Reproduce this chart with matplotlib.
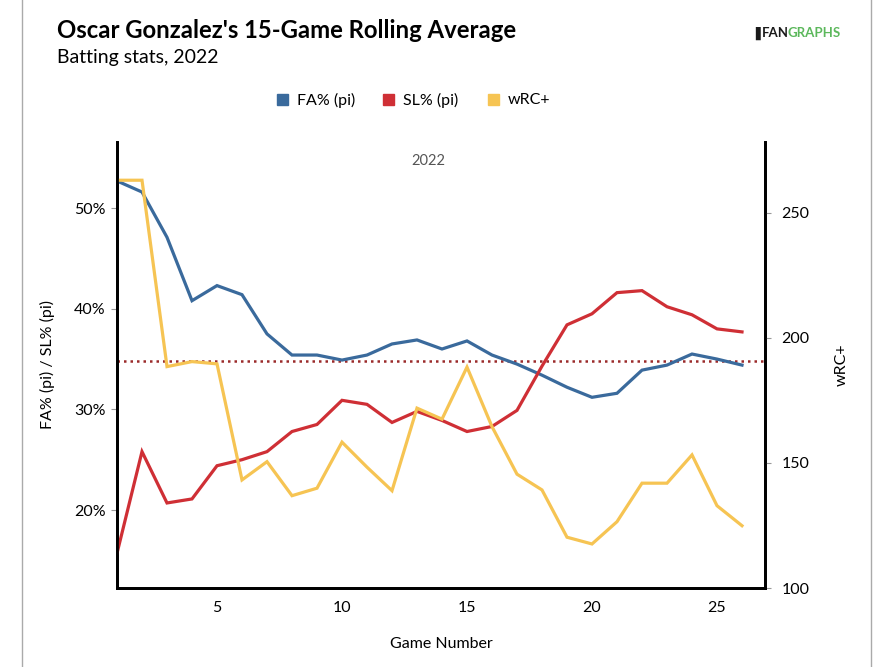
import matplotlib
matplotlib.use("Agg")
import matplotlib.pyplot as plt
from matplotlib.patches import Rectangle
from matplotlib.lines import Line2D

plt.rcParams['font.family'] = ['Lato', 'DejaVu Sans']

games = list(range(1, 27))
fa_pct = [52.7, 51.6, 47.1, 40.8, 42.3, 41.4, 37.5, 35.4, 35.4, 34.9, 35.4, 36.5, 36.9,
          36.0, 36.8, 35.4, 34.5, 33.4, 32.2, 31.2, 31.6, 33.9, 34.4, 35.5, 35.0, 34.4]
sl_pct = [15.7, 25.8, 20.7, 21.1, 24.4, 25.0, 25.8, 27.8, 28.5, 30.9, 30.5, 28.7, 29.8,
          28.9, 27.8, 28.3, 29.9, 34.3, 38.4, 39.5, 41.6, 41.8, 40.2, 39.4, 38.0, 37.7]
wrc_plus = [263, 263, 188.5, 190.5, 189.6, 143.2, 150.5, 136.9, 139.9, 158.3, 148.3, 138.9, 171.9,
            167.5, 188.3, 164.5, 145.5, 139.2, 120.3, 117.6, 126.5, 141.9, 141.9, 153.2, 132.9, 124.9]
avg_line = 34.85

left_ticks = [20, 30, 40, 50]
left_labels = ["20%", "30%", "40%", "50%"]
right_ticks = [100, 150, 200, 250]
x_ticks = [5, 10, 15, 20, 25]

c_fa = "#3a6a9c"
c_sl = "#cf2f35"
c_wrc = "#f6c453"
c_avg = "#9b2a2a"

W, H = 896, 667
fig = plt.figure(figsize=(W / 100, H / 100), dpi=100)

def fx(px):
    return px / W

def fy(py):
    return 1 - py / H

ax = fig.add_axes([fx(117), fy(588), fx(765) - fx(117), fy(141.7) - fy(588)])
ax2 = ax.twinx()

ax.set_xlim(1, 26.92)
ax.set_ylim(12.25, 56.6)
ax2.set_ylim(100, 278.4)

ax.axhline(avg_line, color=c_avg, lw=1.8, ls=(0, (1, 1.6)), zorder=1)
ax.plot(games, fa_pct, color=c_fa, lw=2.3, zorder=3, solid_joinstyle='miter')
ax.plot(games, sl_pct, color=c_sl, lw=2.3, zorder=3, solid_joinstyle='miter')
ax2.plot(games, wrc_plus, color=c_wrc, lw=2.3, zorder=2, solid_joinstyle='miter')

for a in (ax, ax2):
    a.spines['top'].set_visible(False)
    for s in ('left', 'right', 'bottom'):
        a.spines[s].set_linewidth(2)
        a.spines[s].set_color('black')

ax.set_xticks(x_ticks)
ax.set_xticklabels([str(t) for t in x_ticks], fontsize=11.5)
ax.tick_params(axis='x', length=0, pad=9)
ax.set_yticks(left_ticks)
ax.set_yticklabels(left_labels, fontsize=11.5)
ax.tick_params(axis='y', length=4, width=0.8, color='#999999', pad=4)
ax2.set_yticks(right_ticks)
ax2.set_yticklabels([str(t) for t in right_ticks], fontsize=11.5)
ax2.tick_params(axis='y', length=4, width=0.8, color='#999999', pad=8)

ax.set_ylabel("FA% (pi) / SL% (pi)", fontsize=11.5, labelpad=14)
ax2.set_ylabel("wRC+", fontsize=11.5, labelpad=18)
ax.set_xlabel("Game Number", fontsize=11.5, labelpad=16)

# Titles
fig.text(fx(57), fy(31), "Oscar Gonzalez's 15-Game Rolling Average", fontsize=17.2,
         fontweight='bold', va='center', ha='left', color='black')
fig.text(fx(57), fy(57), "Batting stats, 2022", fontsize=14, va='center', ha='left',
         color='black')
fig.text(fx(428), fy(161), "2022", fontsize=10.5, ha='center', va='center', color='#555555')

# Logo
fig.text(fx(750), fy(33), "\u2590", fontsize=9, ha='left', va='center', color='#1a1a1a')
fig.text(fx(762), fy(33), "FAN", fontsize=9.5, fontweight='bold', ha='left', va='center',
         color='#1a1a1a')
fig.text(fx(787), fy(33), "GRAPHS", fontsize=9.5, fontweight='bold', ha='left', va='center',
         color='#5cb85c')

# Legend (manual)
leg_items = [(277, 297, "FA% (pi)", c_fa), (383, 403, "SL% (pi)", c_sl), (488, 508, "wRC+", c_wrc)]
for sx, tx, lab, col in leg_items:
    fig.patches.append(Rectangle((fx(sx), fy(105)), fx(11), fy(94) - fy(105),
                                 transform=fig.transFigure, color=col))
    fig.text(fx(tx), fy(100), lab, fontsize=11.5, ha='left', va='center', color='black')

# Card border lines
fig.add_artist(Line2D([fx(22), fx(22)], [0, 1], transform=fig.transFigure, color='#aaaaaa', lw=1))
fig.add_artist(Line2D([fx(871), fx(871)], [0, 1], transform=fig.transFigure, color='#aaaaaa', lw=1))

fig.savefig("out.png", dpi=100)
